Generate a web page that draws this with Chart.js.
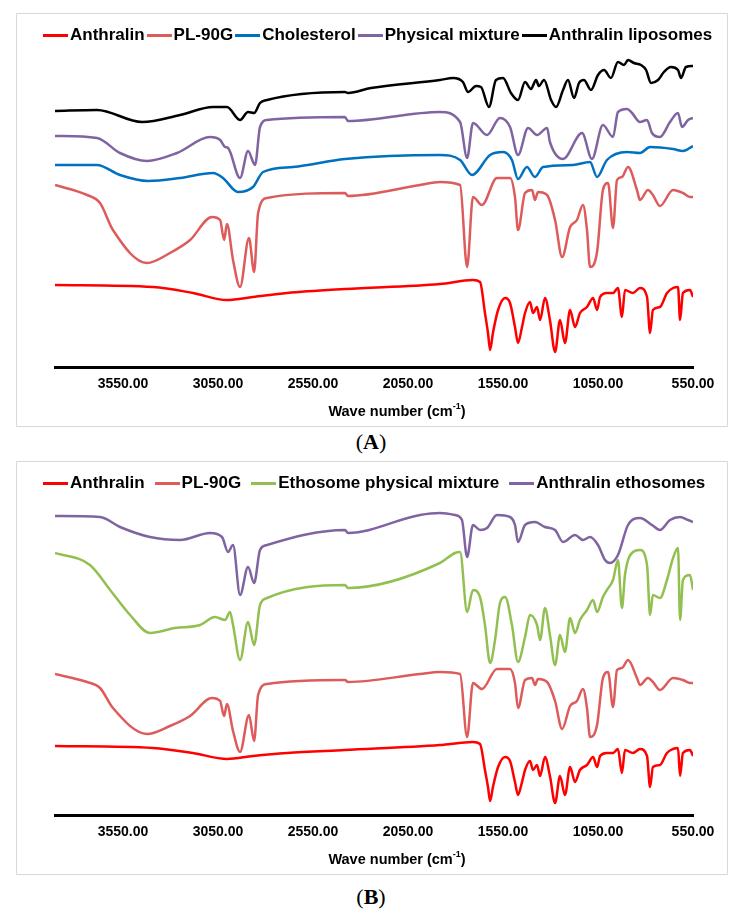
<!DOCTYPE html>
<html>
<head>
<meta charset="utf-8">
<script src="https://cdn.jsdelivr.net/npm/chart.js@4.4.1/dist/chart.umd.min.js"></script>
<style>
  body { margin: 0; background: #fff; width: 742px; height: 915px; position: relative; font-family: "Liberation Sans", Arial, sans-serif; }
  .panel { position: absolute; left: 16px; width: 712px; height: 414px; border: 1px solid #d9d9d9; box-sizing: border-box; }
  .panel .wrap { position: absolute; left: 0; top: 0; width: 710px; height: 412px; }
  .legend { position: absolute; left: 26px; top: 11px; display: flex; align-items: center; font: bold 17px "Liberation Sans", Arial, sans-serif; color: #000; line-height: 20px; white-space: nowrap; }
  .legend .item { display: flex; align-items: center; }
  .legend .swatch { width: 25px; height: 3px; margin-right: 2px; }
  .caption { position: absolute; left: 0; width: 742px; text-align: center; font: 22px "Liberation Serif", "Times New Roman", serif; line-height: 26px; }
</style>
</head>
<body>
<div class="panel" id="panelA" style="top:13px">
  <div class="wrap"><canvas id="chartA"></canvas></div>
  <div class="legend" id="legendA"></div>
</div>
<div class="caption" style="top:429px">(<b>A</b>)</div>

<div class="panel" id="panelB" style="top:461px">
  <div class="wrap"><canvas id="chartB"></canvas></div>
  <div class="legend" id="legendB"></div>
</div>
<div class="caption" style="top:884px">(<b>B</b>)</div>

<script>
// x axis labels (wave number, cm-1)
const wavenumberTicks = [3550, 3050, 2550, 2050, 1550, 1050, 550];

// transmittance, offset per trace (arbitrary units)
const anthralinWn = [3908, 3392, 3182, 3003, 2866, 2687, 2382, 1882, 1708, 1671,
  1645, 1629, 1618, 1603, 1576, 1539, 1513, 1487, 1471, 1450,
  1434, 1408, 1392, 1371, 1355, 1329, 1303, 1276, 1250, 1224,
  1197, 1171, 1145, 1108, 1076, 1055, 1039, 1003, 971, 945,
  924, 908, 866, 829, 792, 776, 761, 724, 687, 655,
  629, 618, 603, 566, 550];
const anthralinA = [82, 80, 74, 67, 70, 74, 78, 83, 87, 85,
  54, 34, 17, 34, 57, 69, 64, 40, 24, 40,
  54, 65, 54, 60, 47, 69, 47, 15, 47, 24,
  57, 40, 54, 60, 69, 57, 70, 74, 74, 79,
  50, 77, 74, 79, 70, 34, 57, 60, 74, 79,
  80, 47, 74, 77, 70];
const anthralinB = [69, 67, 62, 56, 59, 62, 65, 70, 73, 71,
  45, 28, 14, 28, 48, 58, 54, 33, 20, 33,
  45, 54, 45, 50, 39, 58, 39, 12, 39, 20,
  48, 33, 45, 50, 58, 48, 59, 62, 62, 66,
  42, 65, 62, 66, 59, 28, 48, 50, 62, 66,
  67, 39, 62, 65, 59];

const pl90gWn = [3908, 3739, 3671, 3603, 3424, 3303, 3197, 3082, 3039, 3018,
  3003, 2971, 2934, 2887, 2860, 2839, 2792, 2382, 2366, 1987,
  1882, 1776, 1739, 1708, 1661, 1582, 1513, 1487, 1471, 1434,
  1397, 1382, 1366, 1318, 1276, 1239, 1197, 1161, 1129, 1108,
  1092, 1055, 1024, 997, 971, 950, 924, 892, 845, 829,
  787, 761, 724, 655, 603, 566, 550];
const pl90gA = [182, 172, 164, 137, 104, 114, 127, 150, 147, 127,
  143, 107, 80, 129, 95, 154, 169, 174, 171, 182,
  185, 182, 100, 170, 162, 189, 189, 170, 137, 174,
  177, 167, 175, 172, 147, 110, 140, 147, 162, 137,
  100, 115, 177, 184, 139, 187, 190, 200, 177, 167,
  177, 172, 161, 177, 174, 170, 170];
const pl90gB = [141, 133, 127, 107, 81, 89, 99, 117, 114, 99,
  111, 84, 63, 100, 74, 120, 131, 135, 133, 141,
  143, 141, 78, 132, 126, 146, 146, 132, 107, 135,
  137, 130, 136, 133, 114, 86, 109, 114, 126, 107,
  78, 90, 137, 143, 108, 145, 147, 155, 137, 130,
  137, 133, 125, 137, 135, 132, 132];

const cholesterolWn = [3908, 3687, 3566, 3418, 3250, 3076, 3024, 2945, 2866, 2813,
  2655, 2382, 1882, 1776, 1713, 1618, 1550, 1503, 1471, 1424,
  1382, 1339, 1182, 1092, 1055, 1003, 897, 829, 776, 655,
  603, 550];
const cholesterolA = [202, 202, 192, 186, 189, 194, 189, 175, 180, 195,
  200, 208, 212, 207, 192, 212, 215, 207, 188, 200,
  190, 200, 202, 205, 190, 207, 215, 214, 220, 218,
  216, 221];

const physMixWn = [3908, 3687, 3566, 3424, 3266, 3092, 3039, 3013, 2997, 2934,
  2892, 2855, 2829, 2792, 2382, 2366, 1882, 1776, 1739, 1708,
  1634, 1566, 1513, 1471, 1418, 1371, 1318, 1303, 1234, 1134,
  1082, 1024, 971, 945, 897, 871, 829, 792, 766, 724,
  671, 629, 608, 576, 550];
const physMixA = [231, 229, 214, 206, 214, 230, 227, 220, 219, 189,
  216, 202, 240, 247, 250, 246, 255, 245, 209, 244,
  232, 249, 240, 212, 239, 232, 239, 225, 208, 234,
  208, 242, 230, 255, 258, 254, 245, 247, 234, 230,
  245, 254, 240, 247, 249];

const liposomesWn = [3908, 3687, 3450, 3250, 3076, 3003, 2934, 2892, 2860, 2829,
  2792, 2382, 2366, 2245, 1882, 1813, 1761, 1734, 1692, 1666,
  1624, 1587, 1550, 1508, 1471, 1434, 1403, 1376, 1361, 1334,
  1297, 1271, 1234, 1208, 1176, 1150, 1124, 1087, 1050, 1018,
  982, 945, 913, 892, 861, 824, 797, 771, 734, 703,
  666, 629, 613, 587, 550];
const liposomesA = [256, 257, 245, 252, 260, 260, 247, 255, 254, 264,
  267, 275, 274, 279, 287, 289, 285, 275, 281, 280,
  260, 287, 289, 274, 267, 285, 278, 287, 281, 287,
  267, 260, 277, 287, 269, 284, 287, 277, 292, 297,
  289, 305, 302, 307, 304, 302, 297, 284, 287, 295,
  300, 297, 289, 300, 301];

const ethoMixWn = [3908, 3724, 3618, 3513, 3408, 3276, 3145, 3066, 3013, 2987,
  2971, 2934, 2892, 2860, 2829, 2792, 2382, 2366, 1882, 1803,
  1776, 1739, 1708, 1671, 1645, 1618, 1592, 1566, 1539, 1503,
  1471, 1434, 1408, 1371, 1355, 1329, 1303, 1276, 1250, 1224,
  1197, 1171, 1145, 1108, 1076, 1055, 1024, 1003, 971, 945,
  924, 908, 866, 829, 792, 776, 761, 724, 687, 655,
  629, 618, 603, 566, 550];
const ethoMixB = [262, 250, 225, 200, 182, 187, 190, 198, 195, 203,
  190, 155, 193, 170, 210, 217, 230, 227, 252, 262,
  263, 203, 225, 218, 190, 152, 175, 212, 218, 190,
  153, 178, 200, 190, 175, 207, 180, 150, 180, 163,
  197, 182, 195, 205, 215, 203, 218, 225, 235, 255,
  207, 240, 263, 265, 250, 200, 220, 217, 235, 257,
  267, 195, 235, 240, 225];

const ethosomesWn = [3908, 3671, 3566, 3408, 3250, 3092, 3029, 2997, 2971, 2934,
  2892, 2860, 2829, 2792, 2382, 2366, 1987, 1882, 1803, 1766,
  1739, 1708, 1671, 1634, 1582, 1513, 1487, 1471, 1434, 1382,
  1329, 1276, 1234, 1171, 1129, 1092, 1050, 1013, 987, 945,
  892, 829, 766, 724, 671, 618, 576, 550];
const ethosomesB = [299, 298, 288, 278, 275, 282, 278, 263, 270, 220,
  248, 232, 265, 270, 285, 282, 300, 302, 300, 295,
  258, 290, 285, 287, 300, 298, 290, 273, 290, 293,
  288, 285, 273, 280, 275, 278, 270, 255, 252, 260,
  290, 297, 290, 285, 295, 298, 295, 293];

const RED = '#ff0000';
const PL_RED = '#dd5b5b';
const BLUE = '#0070c0';
const PURPLE = '#8064a2';
const GREEN = '#92c050';

function series(wn, vals) {
  return wn.map((x, i) => ({ x: x, y: vals[i] }));
}

function line(label, color, wn, vals) {
  return {
    label: label,
    data: series(wn, vals),
    borderColor: color,
    backgroundColor: color,
    borderWidth: 2.5,
    pointRadius: 0,
    cubicInterpolationMode: 'monotone',
    fill: false
  };
}

// x axis title with a superscript, like the Excel original
const axisTitle = {
  id: 'axisTitle',
  afterDraw(chart) {
    const { ctx, chartArea } = chart;
    const cx = (chartArea.left + chartArea.right) / 2 + 23;
    const cy = chartArea.bottom + 45;
    const main = 'Wave number (cm';
    const sup = '-1';
    const end = ')';
    ctx.save();
    ctx.fillStyle = '#000';
    ctx.textBaseline = 'middle';
    ctx.font = 'bold 14.5px "Liberation Sans", Arial, sans-serif';
    const w1 = ctx.measureText(main).width;
    const w3 = ctx.measureText(end).width;
    ctx.font = 'bold 9px "Liberation Sans", Arial, sans-serif';
    const w2 = ctx.measureText(sup).width;
    let x = cx - (w1 + w2 + w3) / 2;
    ctx.font = 'bold 14.5px "Liberation Sans", Arial, sans-serif';
    ctx.fillText(main, x, cy);
    x += w1;
    ctx.font = 'bold 9px "Liberation Sans", Arial, sans-serif';
    ctx.fillText(sup, x, cy - 5);
    x += w2;
    ctx.font = 'bold 14.5px "Liberation Sans", Arial, sans-serif';
    ctx.fillText(end, x, cy);
    ctx.restore();
  }
};

function buildLegend(el, datasets, gap) {
  datasets.forEach((ds, i) => {
    const item = document.createElement('span');
    item.className = 'item';
    if (i < datasets.length - 1) item.style.marginRight = gap + 'px';
    const sw = document.createElement('span');
    sw.className = 'swatch';
    sw.style.background = ds.borderColor;
    const txt = document.createElement('span');
    txt.textContent = ds.label;
    item.appendChild(sw);
    item.appendChild(txt);
    el.appendChild(item);
  });
}

function makeChart(canvasId, legendId, datasets, gap) {
  buildLegend(document.getElementById(legendId), datasets, gap);
  return new Chart(document.getElementById(canvasId), {
    type: 'line',
    data: { datasets: datasets },
    options: {
      responsive: true,
      maintainAspectRatio: false,
      animation: false,
      layout: { padding: { left: 38, right: 34, top: 33, bottom: 0 } },
      plugins: {
        legend: { display: false },
        tooltip: { enabled: false }
      },
      scales: {
        x: {
          type: 'linear',
          reverse: true,
          min: 550,
          max: 3908,
          afterBuildTicks: (scale) => {
            scale.ticks = wavenumberTicks.map(v => ({ value: v }));
          },
          afterFit: (scale) => { scale.height = 59; },
          grid: { display: false, drawTicks: false },
          border: { display: true, color: '#000', width: 3 },
          ticks: {
            autoSkip: false,
            maxRotation: 0,
            padding: 9,
            color: '#000',
            font: { family: '"Liberation Sans", Arial, sans-serif', weight: 'bold', size: 14 },
            callback: (v) => Number(v).toFixed(2)
          }
        },
        y: { display: false, min: 0, max: 320 }
      }
    },
    plugins: [axisTitle]
  });
}

makeChart('chartA', 'legendA', [
  line('Anthralin', RED, anthralinWn, anthralinA),
  line('PL-90G', PL_RED, pl90gWn, pl90gA),
  line('Cholesterol', BLUE, cholesterolWn, cholesterolA),
  line('Physical mixture', PURPLE, physMixWn, physMixA),
  line('Anthralin liposomes', '#000000', liposomesWn, liposomesA)
], 2);

makeChart('chartB', 'legendB', [
  line('Anthralin', RED, anthralinWn, anthralinB),
  line('PL-90G', PL_RED, pl90gWn, pl90gB),
  line('Ethosome physical mixture', GREEN, ethoMixWn, ethoMixB),
  line('Anthralin ethosomes', PURPLE, ethosomesWn, ethosomesB)
], 10);
</script>
</body>
</html>
